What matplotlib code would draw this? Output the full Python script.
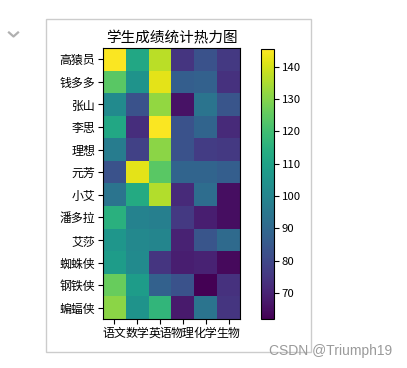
import numpy as np
import matplotlib
matplotlib.use("Agg")
import matplotlib.pyplot as plt
from matplotlib.patches import Rectangle
from matplotlib.lines import Line2D

plt.rcParams['font.family'] = ['Noto Sans CJK SC', 'DejaVu Sans']
plt.rcParams['axes.unicode_minus'] = False

# ─── Data ─────────────────────────────────────────────────────────────────────
students = ["高猿员", "钱多多", "张山", "李思", "理想", "元芳",
            "小艾", "潘多拉", "艾莎", "蜘蛛侠", "钢铁侠", "蝙蝠侠"]
subjects = ["语文", "数学", "英语", "物理", "化学", "生物"]

chinese   = [145, 124, 102, 112, 97, 83, 94, 115, 106, 108, 126, 131]
math      = [112, 105, 83, 73, 78, 142, 113, 99, 101, 102, 108, 105]
english   = [137, 142, 132, 145, 131, 124, 136, 98, 100, 75, 88, 117]
physics   = [75, 87, 66, 83, 83, 89, 72, 76, 70, 69, 83, 68]
chemistry = [83, 88, 94, 89, 77, 89, 92, 69, 84, 70, 62, 94]
biology   = [76, 74, 84, 72, 76, 87, 65, 65, 91, 64, 74, 75]

scores = np.column_stack([chinese, math, english, physics, chemistry, biology])
cbar_ticks = [70, 80, 90, 100, 110, 120, 130, 140]

# ─── Figure (pixel layout) ────────────────────────────────────────────────────
W, H = 407, 368
fig = plt.figure(figsize=(W / 100, H / 100), dpi=100)


def px_axes(x0, y0, x1, y1):
    return fig.add_axes([x0 / W, 1 - y1 / H, (x1 - x0) / W, (y1 - y0) / H])


# notebook output frame
fig.patches.append(Rectangle((45.5 / W, 1 - 351.5 / H), 265 / W, 333 / H,
                             transform=fig.transFigure, fill=False,
                             edgecolor="#cccccc", linewidth=1.0))
# collapse chevron
fig.add_artist(Line2D([9 / W, 13.5 / W, 18 / W],
                      [1 - 32.5 / H, 1 - 36.5 / H, 1 - 32.5 / H],
                      color="#b0b0b0", linewidth=1.6))

ax = px_axes(103, 48, 240, 319)
im = ax.imshow(scores, cmap="viridis", aspect="auto", vmin=62, vmax=145.5)
ax.set_xticks(range(len(subjects)))
ax.set_xticklabels(subjects, fontsize=8.6)
ax.set_yticks(range(len(students)))
ax.set_yticklabels(students, fontsize=8.6)
ax.tick_params(length=3.5, pad=2)
ax.set_title("学生成绩统计热力图", fontsize=10.5, pad=4)

cax = px_axes(261, 49, 274, 319)
cb = fig.colorbar(im, cax=cax, ticks=cbar_ticks)
cb.ax.tick_params(labelsize=8.2, length=3.5, pad=2)

fig.text(392 / W, 1 - 351 / H, "CSDN @Triumph19", ha="right", va="center",
         fontsize=10, color="#9a9a9a", family=["Liberation Sans", "DejaVu Sans"])

fig.savefig("out.png", dpi=100, facecolor="white")
